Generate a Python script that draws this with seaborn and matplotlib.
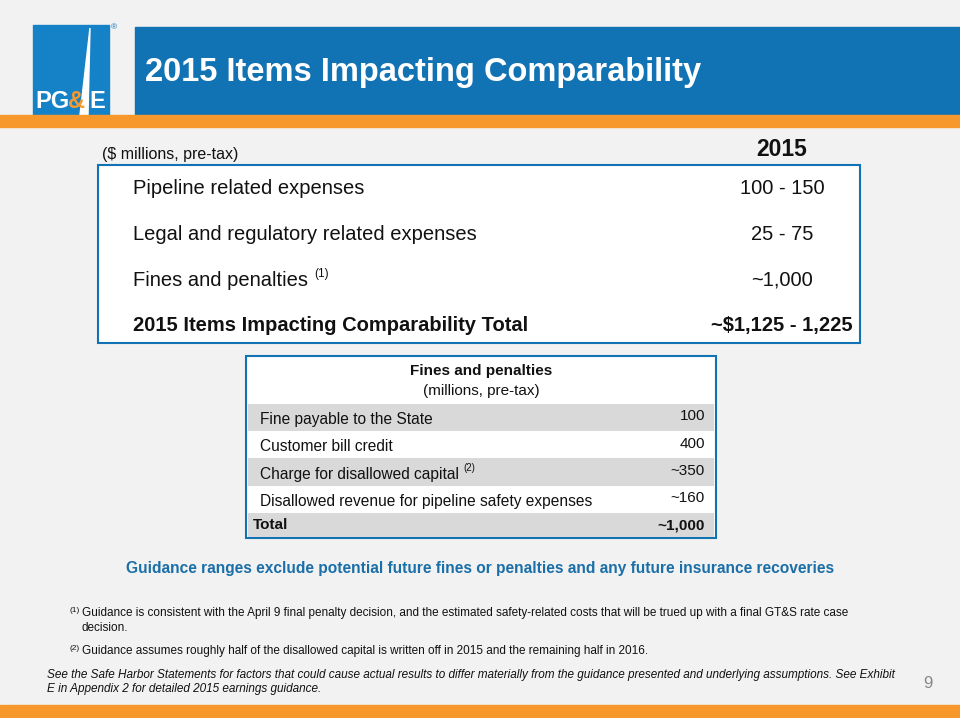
import matplotlib
matplotlib.use('Agg')
import matplotlib.pyplot as plt
import seaborn as sns
from matplotlib.patches import Rectangle, Polygon

sns.set_theme(style='white')
plt.rcParams['font.family'] = ['Liberation Sans', 'DejaVu Sans']

title = '2015 Items Impacting Comparability'
main_items = ['Pipeline related expenses', 'Legal and regulatory related expenses',
              'Fines and penalties', '2015 Items Impacting Comparability Total']
main_values = ['100 - 150', '25 - 75', '~1,000', '~$1,125 - 1,225']
main_notes = ['', '', '(1)', '']

fine_items = ['Fine payable to the State', 'Customer bill credit',
              'Charge for disallowed capital', 'Disallowed revenue for pipeline safety expenses', 'Total']
fine_values = ['100', '400', '~350', '~160', '~1,000']
fine_notes = ['', '', '(2)', '', '']

BLUE = '#1173b4'
ORANGE = '#f6982c'
BG = '#f2f2f2'
TXT = '#111111'

fig = plt.figure(figsize=(9.6, 7.18), dpi=100)
fig.patch.set_facecolor(BG)
ax = fig.add_axes([0, 0, 1, 1])
ax.set_xlim(0, 960)
ax.set_ylim(718, 0)
ax.axis('off')
renderer = fig.canvas.get_renderer()


def right_edge(t):
    bb = t.get_window_extent(renderer).transformed(ax.transData.inverted())
    return max(bb.x0, bb.x1)


# header
ax.add_patch(Rectangle((135, 27), 825, 88, color=BLUE))
ax.text(145, 73, title, color='white', fontsize=23.5, fontweight='bold', va='center')
ax.add_patch(Rectangle((33, 25), 76, 90, color='#1582c8'))
ax.add_patch(Polygon([(90, 28), (80, 115), (88, 115)], color='white'))
ax.text(35, 113, 'PG', color='white', fontsize=17, fontweight='bold', va='bottom')
ax.text(68, 113, '&', color=ORANGE, fontsize=17, fontweight='bold', va='bottom')
ax.text(89, 113, 'E', color='white', fontsize=17, fontweight='bold', va='bottom')
ax.text(111, 29, '®', color=BLUE, fontsize=6)
ax.add_patch(Rectangle((0, 115), 960, 12, color=ORANGE))
ax.add_patch(Rectangle((0, 705), 960, 13, color=ORANGE))

# main table
ax.text(102, 154, '($ millions, pre-tax)', fontsize=11.5, color=TXT, va='center')
ax.text(782, 150, '2015', fontsize=16.5, fontweight='bold', color=TXT, va='center', ha='center')
ax.add_patch(Rectangle((98, 165), 762, 178, facecolor='white', edgecolor=BLUE, lw=1.5))
for i, (lab, val, note) in enumerate(zip(main_items, main_values, main_notes)):
    y = 189 + i * 45.5
    w = 'bold' if i == len(main_items) - 1 else 'normal'
    t = ax.text(133, y, lab, fontsize=14.5, fontweight=w, color=TXT, va='center')
    if note:
        ax.text(right_edge(t) + 6, y - 6, note, fontsize=8.5, color=TXT, va='center')
    ax.text(782, y, val, fontsize=14.5, fontweight=w, color=TXT, va='center', ha='center')

# fines table
ax.add_patch(Rectangle((246, 356), 470, 182, facecolor='white', edgecolor=BLUE, lw=1.5))
ax.text(481, 371, 'Fines and penalties', fontsize=11, fontweight='bold', ha='center', va='center', color=TXT)
ax.text(481, 391, '(millions, pre-tax)', fontsize=11, ha='center', va='center', color=TXT)
edges = [404, 431, 458, 486, 513, 537]
for i, (lab, val, note) in enumerate(zip(fine_items, fine_values, fine_notes)):
    y0, y1 = edges[i], edges[i + 1]
    if i % 2 == 0:
        ax.add_patch(Rectangle((248, y0), 466, y1 - y0, color='#d9d9d9', lw=0))
    yc = (y0 + y1) / 2 + 2
    if i == len(fine_items) - 1:
        ax.text(253, yc - 2, lab, fontsize=11, fontweight='bold', va='center', color=TXT)
        ax.text(705, yc - 2, val, fontsize=11, fontweight='bold', va='center', ha='right', color=TXT)
    else:
        t = ax.text(260, yc, lab, fontsize=11.2, va='center', color=TXT)
        ax.text(705, yc - 3, val, fontsize=11, va='center', ha='right', color=TXT)
        if note:
            ax.text(right_edge(t) + 4, yc - 6, note, fontsize=7, va='center', color=TXT)

ax.text(480, 569, 'Guidance ranges exclude potential future fines or penalties and any future insurance recoveries',
        fontsize=11.2, fontweight='bold', color='#1a6fa8', ha='center', va='center')

ax.text(69, 610, '(1)', fontsize=6, color=TXT, va='center')
ax.text(82, 613, 'Guidance is consistent with the April 9 final penalty decision, and the estimated safety-related costs that will be trued up with a final GT&S rate case',
        fontsize=8.5, color=TXT, va='center')
ax.text(82, 628, 'decision.', fontsize=8.5, color=TXT, va='center')
ax.text(69, 648, '(2)', fontsize=6, color=TXT, va='center')
ax.text(82, 651, 'Guidance assumes roughly half of the disallowed capital is written off in 2015 and the remaining half in 2016.',
        fontsize=8.5, color=TXT, va='center')
ax.text(47, 675, 'See the Safe Harbor Statements for factors that could cause actual results to differ materially from the guidance presented and underlying assumptions. See Exhibit',
        fontsize=8.5, style='italic', color=TXT, va='center')
ax.text(47, 689, 'E in Appendix 2 for detailed 2015 earnings guidance.', fontsize=8.5, style='italic', color=TXT, va='center')
ax.text(928, 684, '9', fontsize=12, color='#888888', ha='center', va='center')

fig.savefig('out.png', dpi=100, facecolor=BG)
